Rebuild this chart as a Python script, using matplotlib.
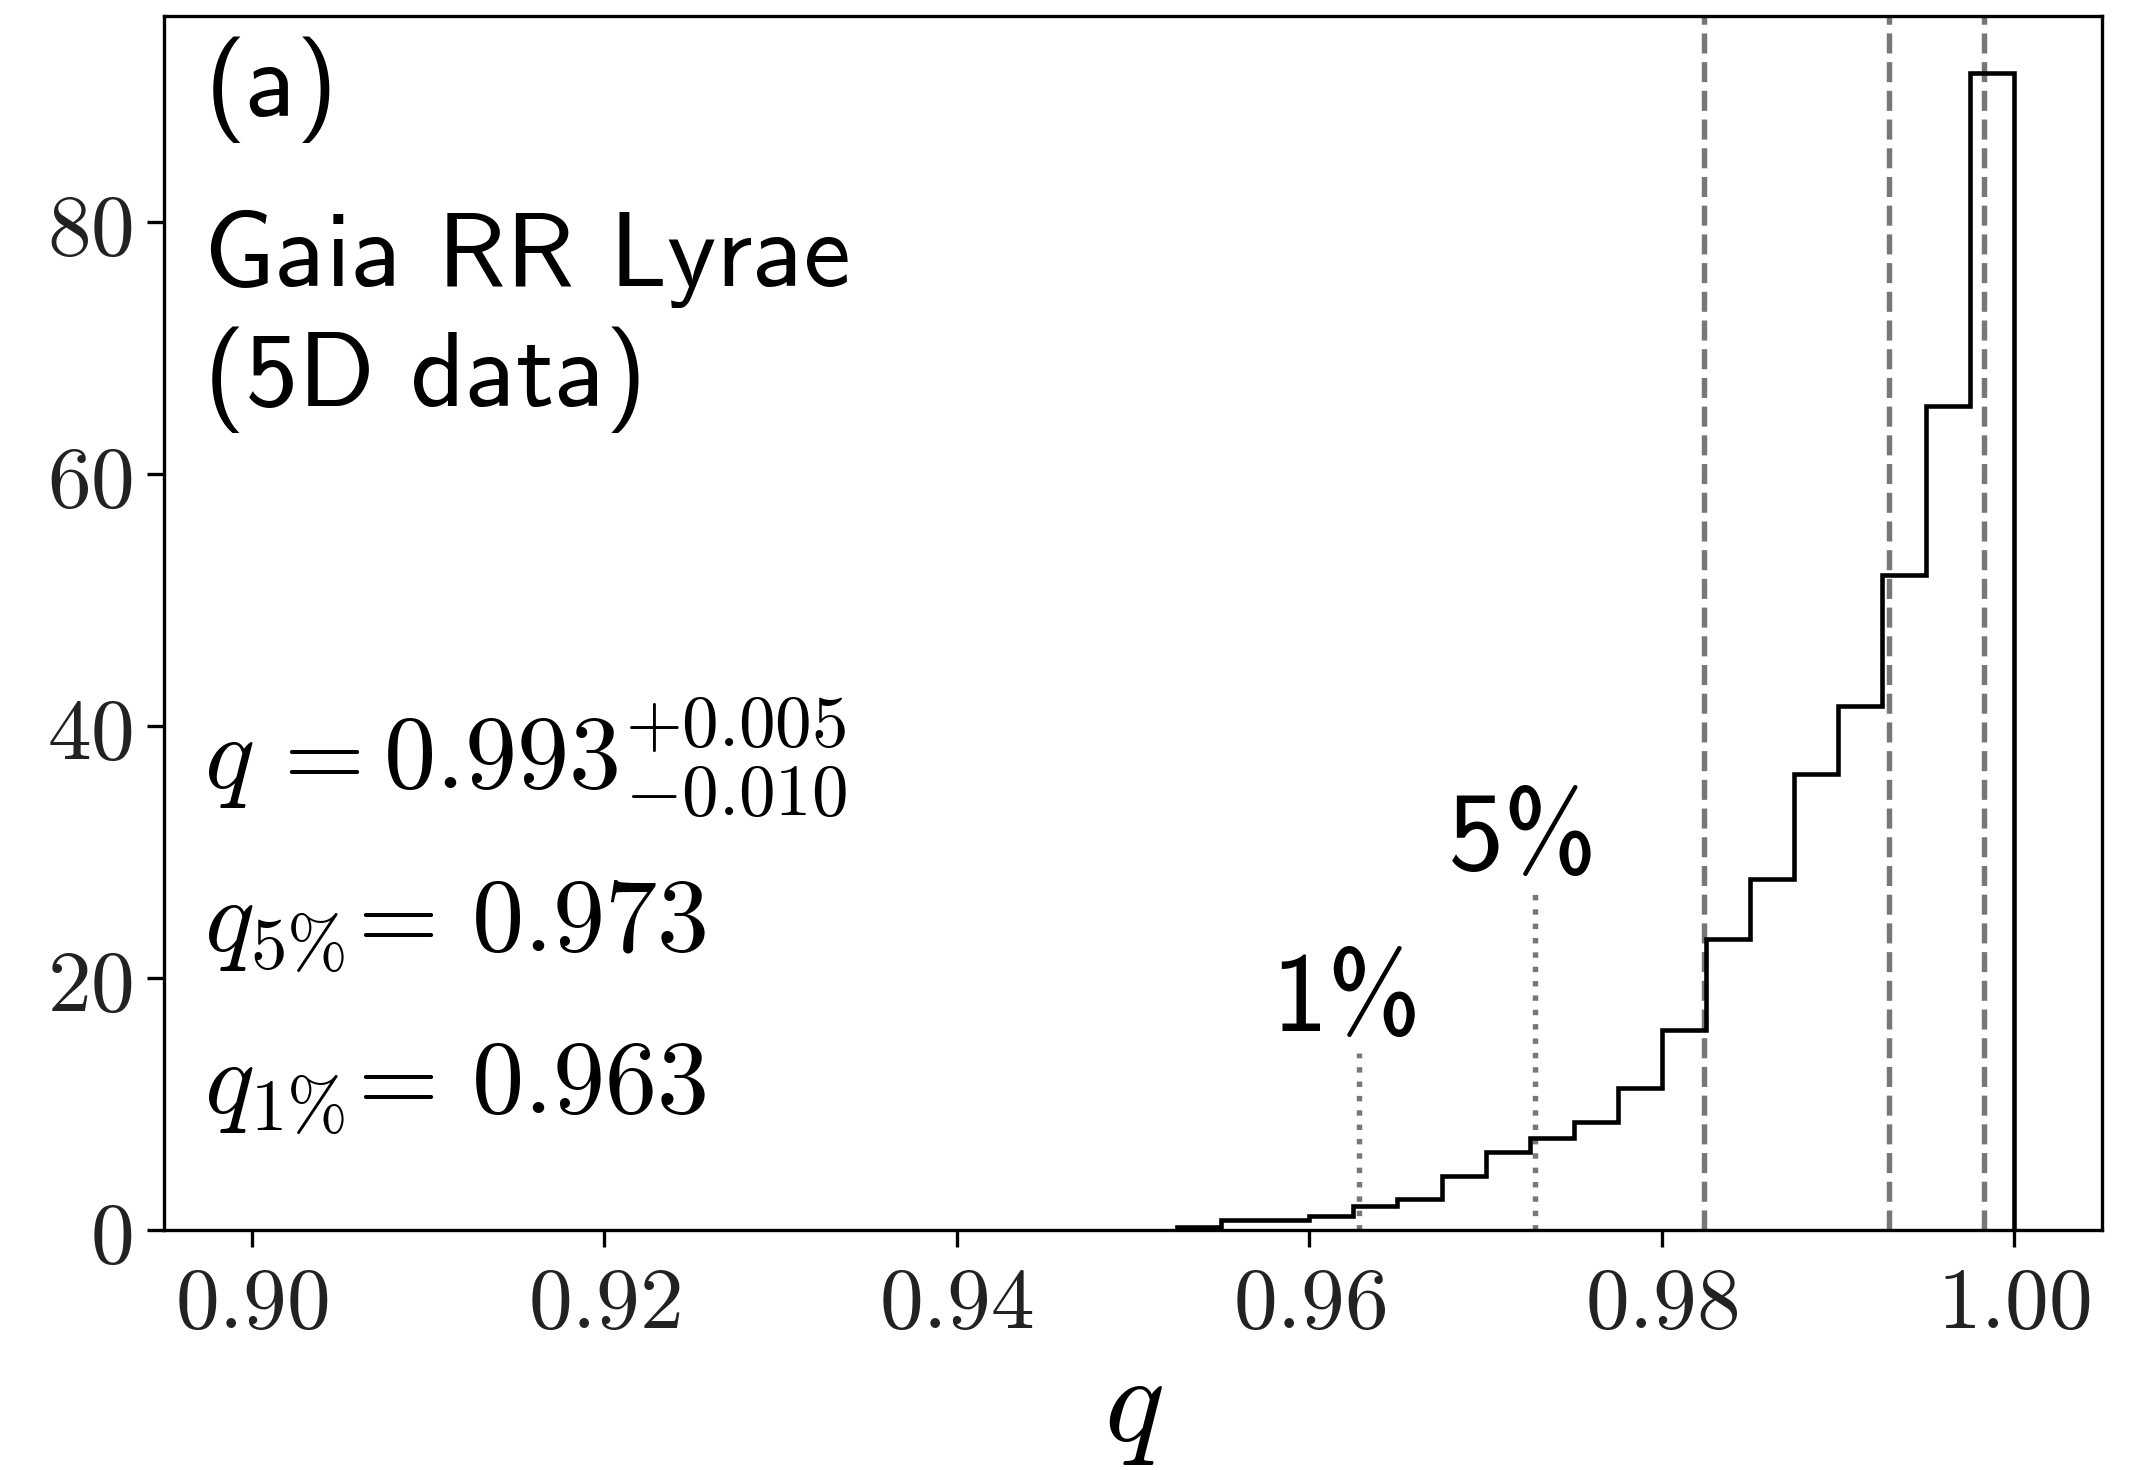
import matplotlib.pyplot as plt
from matplotlib.ticker import FuncFormatter

plt.rcParams['mathtext.fontset'] = 'cm'
plt.rcParams['axes.unicode_minus'] = False

# --- density histogram of q (bin width 0.0025) ---
bin_edges = [0.9525, 0.9550, 0.9575, 0.9600, 0.9625, 0.9650, 0.9675,
             0.9700, 0.9725, 0.9750, 0.9775, 0.9800, 0.9825, 0.9850,
             0.9875, 0.9900, 0.9925, 0.9950, 0.9975, 1.0000]
density = [0.3, 0.8, 0.8, 1.15, 1.9, 2.45, 4.3, 6.2, 7.3, 8.6,
           11.3, 15.9, 23.1, 27.9, 36.2, 41.6, 52.0, 65.4, 91.8]

# --- percentiles (16/50/84 dashed, 5%/1% dotted) ---
q_quantiles = [0.9824, 0.9929, 0.9983]
pct_labels = ['1%', '5%']
pct_values = [0.9628, 0.9728]
pct_heights = [14.1, 26.9]

# --- rounded values quoted in the text ---
q_median = 0.993
q_err_lo = 0.010
q_err_hi = 0.005
q_5pct = 0.973
q_1pct = 0.963

fig = plt.figure(figsize=(2141 / 300, 1470 / 300), dpi=300)
ax = fig.add_axes([0.0765, 0.163, 0.9055, 0.826])

ax.stairs(density, bin_edges, baseline=0, color='black', lw=1.1)

for xv in q_quantiles:
    ax.axvline(xv, color='#777777', ls='--', lw=1.3, zorder=0)

for lab, xv, h in zip(pct_labels, pct_values, pct_heights):
    ax.plot([xv, xv], [0, h], color='#777777', ls=':', lw=1.3, zorder=0)
    ax.text(xv - 0.0007, h + 1.7, lab, family='cmss10',
            fontsize=27, ha='center', va='baseline')

# --- labels in the upper-left corner ---
sans = dict(transform=ax.transAxes, family='cmss10', fontsize=25.5,
            ha='left', va='baseline')
ax.text(0.021, 0.918, '(a)', **sans)
ax.text(0.021, 0.778, 'Gaia RR Lyrae', **sans)
ax.text(0.021, 0.679, '(5D data)', **sans)

maths = dict(transform=ax.transAxes, fontsize=25, ha='left', va='baseline')
ax.text(0.021, 0.363,
        r'$q\,=0.%d^{+%.3f}_{-%.3f}$' % (round(q_median * 1000), q_err_hi, q_err_lo),
        **maths)
ax.text(0.021, 0.2295,
        r'$q_{\mathsf{5\%%}}\!=\,0.%d$' % round(q_5pct * 1000), **maths)
ax.text(0.021, 0.0967,
        r'$q_{\mathsf{1\%%}}\!=\,0.%d$' % round(q_1pct * 1000), **maths)

# --- axes formatting ---
ax.set_xlim(0.895, 1.005)
ax.set_ylim(0, 96.3)
ax.set_xticks([0.90, 0.92, 0.94, 0.96, 0.98, 1.00])
ax.set_yticks([0, 20, 40, 60, 80])
ax.xaxis.set_major_formatter(FuncFormatter(lambda v, p: '$%.2f$' % v))
ax.yaxis.set_major_formatter(FuncFormatter(lambda v, p: '$%d$' % v))
ax.tick_params(labelsize=21, labelcolor='#222222', width=0.8, length=4)
ax.set_xlabel('$q$', fontsize=30, labelpad=0)

fig.savefig('out.png', dpi=300)
